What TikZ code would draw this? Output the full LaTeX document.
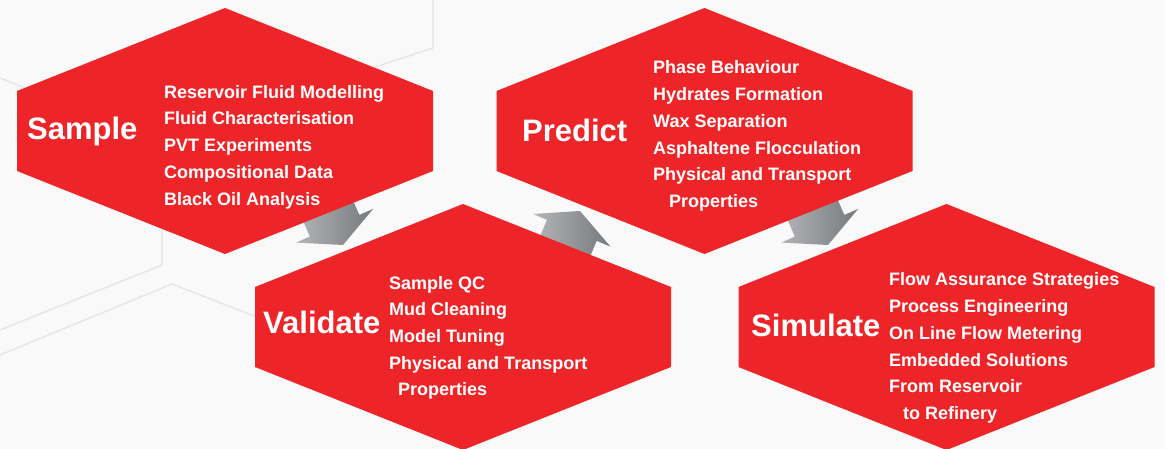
\documentclass[tikz,border=0pt]{standalone}
\usepackage{fontspec}
\setmainfont{Liberation Sans}
\definecolor{hexred}{RGB}{237,37,40}
\definecolor{bgcol}{RGB}{249,249,249}
\definecolor{bgline}{RGB}{231,231,231}
\definecolor{arrlight}{RGB}{188,190,192}
\definecolor{arrdark}{RGB}{118,121,124}
\tikzset{
  hexa/.pic={\fill[hexred] (0,-123) -- (208,-40) -- (208,40) -- (0,123) -- (-208,40) -- (-208,-40) -- cycle;},
  flowarrow/.pic={\shade[left color=arrlight, right color=arrdark]
     (0,0) -- (-21,-42) -- (-21,-27) -- (-85,-27) -- (-85,27) -- (-21,27) -- (-21,42) -- cycle;},
  titletext/.style={anchor=base west, text=white, inner sep=0pt, font=\bfseries\fontsize{31}{34}\selectfont},
  itemtext/.style={anchor=base west, text=white, inner sep=0pt, font=\bfseries\fontsize{18}{20}\selectfont},
  bgl/.style={draw=bgline, line width=1.5pt},
}
\begin{document}
\begin{tikzpicture}[x=1pt,y=-1pt]
\fill[bgcol] (0,0) rectangle (1165,449);
\useasboundingbox (0,0) rectangle (1165,449);
% faint background lines
\draw[bgl] (0,330) -- (162,265) -- (162,200);
\draw[bgl] (0,355) -- (172,284) -- (262,319);
\draw[bgl] (433,0) -- (433,48) -- (360,72);
\draw[bgl] (0,78) -- (30,90);
% centres
\coordinate (S) at (225,131);
\coordinate (P) at (704.5,131);
\coordinate (V) at (463,327);
\coordinate (M) at (946.5,327);
% arrow tips
\coordinate (a1) at (343,245);
\coordinate (a2) at (580,211);
\coordinate (a3) at (828,245);
\pic[rotate=-66.4] at (a1) {flowarrow};
\pic[rotate=67.1] at (a2) {flowarrow};
\pic[rotate=-66.4] at (a3) {flowarrow};
% hexagons
\pic at (S) {hexa};
\pic at (P) {hexa};
\pic at (V) {hexa};
\pic at (M) {hexa};
% titles
\node[titletext] (tS) at (27,140) {Sample};
\node[titletext] (tV) at (263,333) {Validate};
\node[titletext] (tP) at (522,141.7) {Predict};
\node[titletext] (tM) at (751,336) {Simulate};
% items
\foreach \x/\t [count=\i] in {164/Reservoir Fluid Modelling,164/Fluid Characterisation,164/PVT Experiments,164/Compositional Data,164/Black Oil Analysis}
  \node[itemtext] (s\i) at (\x,{98.3+26.7*(\i-1)}) {\t};
\foreach \x/\t [count=\i] in {389/Sample QC,389/Mud Cleaning,389/Model Tuning,389/Physical and Transport,398/Properties}
  \node[itemtext] (v\i) at (\x,{289+26.7*(\i-1)}) {\t};
\foreach \x/\t [count=\i] in {653/Phase Behaviour,653/Hydrates Formation,653/Wax Separation,653/Asphaltene Flocculation,653/Physical and Transport,669/Properties}
  \node[itemtext] (p\i) at (\x,{74+26.7*(\i-1)}) {\t};
\foreach \x/\t [count=\i] in {889/Flow Assurance Strategies,889/Process Engineering,889/On Line Flow Metering,889/Embedded Solutions,889/From Reservoir,903/to Refinery}
  \node[itemtext] (m\i) at (\x,{286+26.7*(\i-1)}) {\t};
\end{tikzpicture}
\end{document}
